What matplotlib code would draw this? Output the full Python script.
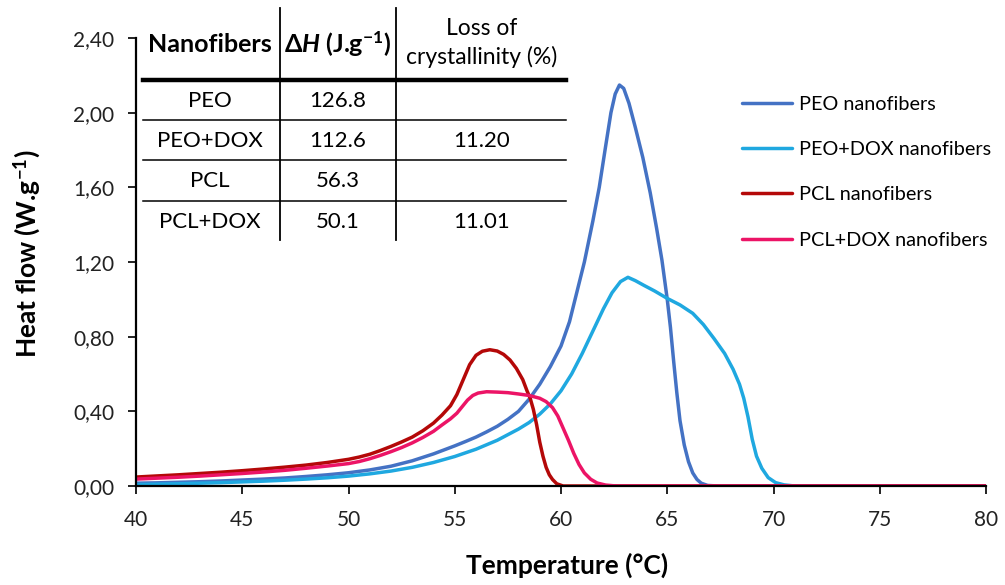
import matplotlib.pyplot as plt
from matplotlib.lines import Line2D
from matplotlib.ticker import FuncFormatter, MultipleLocator

plt.rcParams['font.family'] = ['Lato', 'DejaVu Sans']
plt.rcParams['mathtext.fontset'] = 'custom'
plt.rcParams['mathtext.rm'] = 'Lato'
plt.rcParams['mathtext.bf'] = 'Lato:bold'
plt.rcParams['mathtext.it'] = 'Lato:italic'
plt.rcParams['mathtext.bfit'] = 'Lato:italic:bold'
plt.rcParams['mathtext.fallback'] = 'stixsans'

#================================= DSC curves (T in °C, heat flow in W/g) =================================
T_peo = [40, 41, 42, 43, 44, 45, 46, 47, 48, 49, 50, 51, 52, 53, 54, 55, 55.5, 56, 56.5, 57, 57.5,
         58, 58.5, 59, 59.5, 60.0, 60.4, 60.75, 61.1, 61.5, 61.8, 62.1, 62.35, 62.55, 62.75, 62.95,
         63.2, 63.5, 63.85, 64.2, 64.5, 64.75, 65.0, 65.15, 65.3, 65.45, 65.6, 65.8, 66.0, 66.2, 66.4,
         66.6, 66.9, 67.4, 80]
hf_peo = [0.015, 0.017, 0.02, 0.023, 0.027, 0.032, 0.037, 0.043, 0.051, 0.06, 0.071, 0.086, 0.106,
          0.135, 0.172, 0.215, 0.238, 0.262, 0.29, 0.32, 0.357, 0.4, 0.465, 0.545, 0.64, 0.75, 0.88,
          1.04, 1.2, 1.42, 1.6, 1.82, 2.0, 2.1, 2.148, 2.13, 2.05, 1.92, 1.76, 1.57, 1.38, 1.21, 1.0,
          0.85, 0.67, 0.5, 0.35, 0.22, 0.13, 0.07, 0.035, 0.015, 0.003, 0.0, 0.0]

T_peo_dox = [40, 41, 42, 43, 44, 45, 46, 47, 48, 49, 50, 51, 52, 53, 54, 55, 56, 57, 58, 58.5, 59,
             59.5, 60, 60.5, 61, 61.5, 62, 62.4, 62.8, 63.15, 63.5, 63.9, 64.4, 65.0, 65.6, 66.2, 66.7,
             67.2, 67.7, 68.1, 68.4, 68.6, 68.8, 69.0, 69.2, 69.45, 69.75, 70.1, 70.5, 71.0, 80]
hf_peo_dox = [0.008, 0.01, 0.012, 0.015, 0.018, 0.022, 0.026, 0.031, 0.037, 0.044, 0.053, 0.065, 0.08,
              0.1, 0.126, 0.158, 0.197, 0.245, 0.305, 0.34, 0.385, 0.44, 0.51, 0.6, 0.71, 0.83, 0.95,
              1.035, 1.095, 1.118, 1.1, 1.075, 1.045, 1.005, 0.97, 0.925, 0.865, 0.79, 0.71, 0.625,
              0.545, 0.47, 0.37, 0.25, 0.16, 0.095, 0.045, 0.018, 0.006, 0.0, 0.0]

T_pcl = [40, 41, 42, 43, 44, 45, 46, 47, 48, 49, 50, 50.5, 51, 51.5, 52, 52.5, 53, 53.5, 54, 54.4,
         54.8, 55.1, 55.4, 55.7, 56.0, 56.3, 56.65, 57.0, 57.3, 57.6, 57.9, 58.2, 58.4, 58.55, 58.7,
         58.85, 59.0, 59.15, 59.3, 59.45, 59.6, 59.8, 60.1, 80]
hf_pcl = [0.048, 0.054, 0.06, 0.067, 0.074, 0.082, 0.091, 0.101, 0.112, 0.126, 0.143, 0.155, 0.17,
          0.19, 0.212, 0.236, 0.262, 0.296, 0.337, 0.38, 0.43, 0.49, 0.57, 0.65, 0.7, 0.722, 0.73,
          0.723, 0.705, 0.675, 0.63, 0.57, 0.51, 0.47, 0.41, 0.33, 0.235, 0.16, 0.1, 0.06, 0.035,
          0.012, 0.0, 0.0]

T_pcl_dox = [40, 41, 42, 43, 44, 45, 46, 47, 48, 49, 50, 50.5, 51, 51.5, 52, 52.5, 53, 53.5, 54,
             54.4, 54.8, 55.1, 55.35, 55.6, 55.85, 56.1, 56.5, 57.0, 57.5, 58.0, 58.5, 59.0, 59.3,
             59.6, 59.85, 60.1, 60.35, 60.6, 60.85, 61.1, 61.4, 61.7, 62.1, 62.6, 80]
hf_pcl_dox = [0.037, 0.042, 0.047, 0.053, 0.06, 0.067, 0.075, 0.084, 0.095, 0.107, 0.12, 0.131, 0.146,
              0.164, 0.184, 0.206, 0.231, 0.26, 0.293, 0.327, 0.36, 0.39, 0.425, 0.46, 0.485, 0.498,
              0.505, 0.503, 0.5, 0.493, 0.485, 0.47, 0.452, 0.42, 0.375, 0.31, 0.245, 0.175, 0.115,
              0.07, 0.036, 0.016, 0.005, 0.0, 0.0]

series = [
    (T_peo, hf_peo, 'PEO nanofibers', '#4472c4'),
    (T_peo_dox, hf_peo_dox, 'PEO+DOX nanofibers', '#1fa8e0'),
    (T_pcl, hf_pcl, 'PCL nanofibers', '#b40808'),
    (T_pcl_dox, hf_pcl_dox, 'PCL+DOX nanofibers', '#ec1466'),
]

#================================= enthalpy table =================================
table_header = ['Nanofibers', r'$\mathbf{\Delta}\mathbfit{H}$ (J.g$^{\mathbf{-1}}$)', 'Loss of\ncrystallinity (%)']
table_samples = ['PEO', 'PEO+DOX', 'PCL', 'PCL+DOX']
table_dh = ['126.8', '112.6', '56.3', '50.1']
table_loss = ['', '11.20', '', '11.01']

W, H = 1005, 585
fig = plt.figure(figsize=(W / 100, H / 100), dpi=100)
ax = fig.add_axes([136 / W, 1 - 486 / H, 850 / W, 448 / H])

for t, hf, name, col in series:
    ax.plot(t, hf, color=col, lw=2.5, label=name, solid_capstyle='round', solid_joinstyle='round')

ax.set_xlim(40, 80)
ax.set_ylim(0, 2.4)
ax.xaxis.set_major_locator(MultipleLocator(5))
ax.yaxis.set_major_locator(MultipleLocator(0.4))
ax.yaxis.set_major_formatter(FuncFormatter(lambda v, p: f'{v:.2f}'.replace('.', ',')))
for s in ['top', 'right']:
    ax.spines[s].set_visible(False)
for s in ['left', 'bottom']:
    ax.spines[s].set_linewidth(1.6)
ax.tick_params(axis='both', direction='out', length=5.5, width=1.4, labelsize=15, colors='#222222')
ax.tick_params(axis='y', pad=10)
ax.tick_params(axis='x', pad=12)
ax.set_xlabel('Temperature (°C)', fontsize=19, fontweight='bold', va='center')
ax.xaxis.set_label_coords(0.507, -0.176)
ax.set_ylabel(r'Heat flow (W.g$^{\mathbf{-1}}$)', fontsize=19, fontweight='bold', va='center')
ax.yaxis.set_label_coords(-0.128, 0.518)

leg = ax.legend(loc='upper left', bbox_to_anchor=(742 / W, 1 - 96 / H), bbox_transform=fig.transFigure,
                frameon=False, fontsize=14.3, handlelength=2.5, handletextpad=0.35, labelspacing=1.42,
                borderpad=0, borderaxespad=0)


def px(x, y):
    return x / W, 1 - y / H


# table rules
fig.add_artist(Line2D([143 / W, 566 / W], [1 - 80 / H] * 2, color='black', lw=3.2, transform=fig.transFigure))
for yy in [120, 160, 201]:
    fig.add_artist(Line2D([143 / W, 566 / W], [1 - yy / H] * 2, color='black', lw=1.1, transform=fig.transFigure))
for xx in [280, 396]:
    fig.add_artist(Line2D([xx / W] * 2, [1 - 8 / H, 1 - 240 / H], color='black', lw=1.3, transform=fig.transFigure))

col_x = [210, 338, 482]
row_y = [101, 141, 181, 222]
fig.text(*px(col_x[0], 45), table_header[0], ha='center', va='center', fontsize=18, fontweight='bold')
fig.text(*px(col_x[1], 44), table_header[1], ha='center', va='center', fontsize=18, fontweight='bold')
fig.text(*px(col_x[2], 43), table_header[2], ha='center', va='center', fontsize=16.5, linespacing=1.35)
for i in range(len(table_samples)):
    fig.text(*px(col_x[0], row_y[i]), table_samples[i], ha='center', va='center', fontsize=16)
    fig.text(*px(col_x[1], row_y[i]), table_dh[i], ha='center', va='center', fontsize=16)
    fig.text(*px(col_x[2], row_y[i]), table_loss[i], ha='center', va='center', fontsize=16)

fig.savefig('out.png', dpi=100)
